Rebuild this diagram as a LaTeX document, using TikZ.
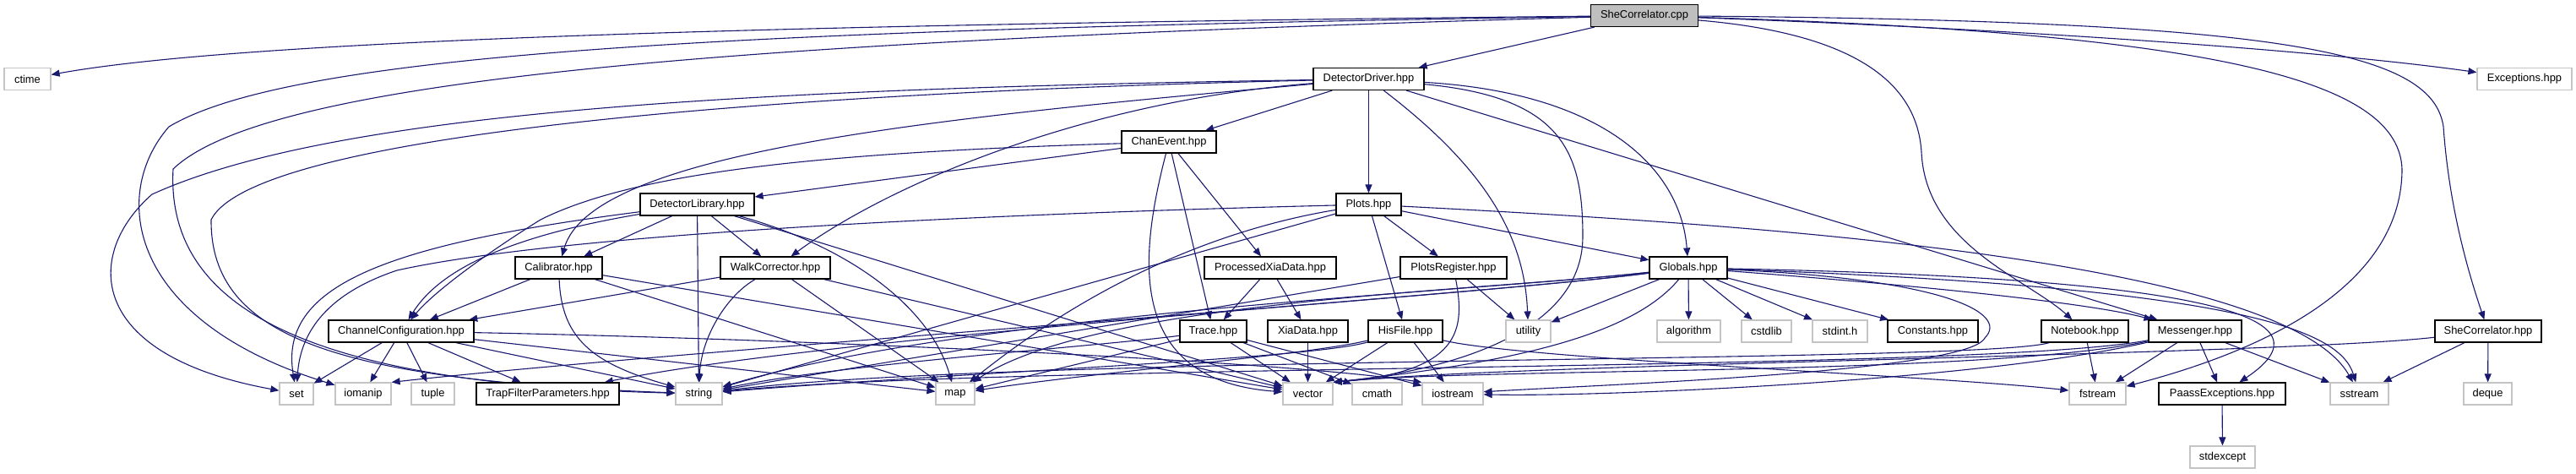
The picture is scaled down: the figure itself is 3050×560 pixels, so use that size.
\documentclass[tikz,border=0pt]{standalone}
\usepackage{fontspec}
\setmainfont{Liberation Sans}
\usetikzlibrary{arrows.meta}
\definecolor{edgeblue}{HTML}{191970}
\definecolor{sysgray}{HTML}{C4C4C4}
\definecolor{rootgray}{HTML}{BFBFBF}
\pgfdeclarelayer{bg}
\pgfsetlayers{bg,main}
\tikzset{
  box/.style={draw=black, line width=1.2pt, fill=white, minimum height=26pt, inner sep=0pt, font=\fontsize{12.9}{15}\selectfont},
  sysbox/.style={box, draw=sysgray},
  rootbox/.style={box, fill=rootgray},
  edge/.style={draw=edgeblue, line width=1.1pt, -{Triangle[length=10pt,width=8pt]}}
}
\begin{document}
\begin{tikzpicture}[x=1pt,y=-1pt]
\useasboundingbox (0,0) rectangle (3050,560);
% row 0
\node[rootbox, minimum width=127pt] (shecpp) at (1947,18.5) {SheCorrelator.cpp};
% row 1
\node[sysbox, minimum width=55pt] (ctime) at (32.5,93.5) {ctime};
\node[box, minimum width=131pt] (dd) at (1620.5,93.5) {DetectorDriver.hpp};
\node[sysbox, minimum width=112pt] (exc) at (2989,93.5) {Exceptions.hpp};
% row 2
\node[box, minimum width=112pt] (chan) at (1384,168) {ChanEvent.hpp};
% row 3
\node[box, minimum width=135pt] (detlib) at (825.5,242) {DetectorLibrary.hpp};
\node[box, minimum width=77pt] (plots) at (1620.5,242) {Plots.hpp};
% row 4
\node[box, minimum width=103pt] (calib) at (661.5,317) {Calibrator.hpp};
\node[box, minimum width=130pt] (walk) at (918,317) {WalkCorrector.hpp};
\node[box, minimum width=156pt] (pxd) at (1504,317) {ProcessedXiaData.hpp};
\node[box, minimum width=126pt] (preg) at (1721,317) {PlotsRegister.hpp};
\node[box, minimum width=92pt] (glob) at (1999,317) {Globals.hpp};
% row 5
\node[box, minimum width=172pt] (chcfg) at (475,392) {ChannelConfiguration.hpp};
\node[box, minimum width=79pt] (trace) at (1436.5,392) {Trace.hpp};
\node[box, minimum width=95pt] (xia) at (1548.5,392) {XiaData.hpp};
\node[box, minimum width=88pt] (his) at (1664,392) {HisFile.hpp};
\node[sysbox, minimum width=53pt] (util) at (1809.5,392) {utility};
\node[sysbox, minimum width=75pt] (algo) at (1999.5,392) {algorithm};
\node[sysbox, minimum width=59pt] (cstd) at (2091.5,392) {cstdlib};
\node[sysbox, minimum width=65pt] (stdint) at (2178.5,392) {stdint.h};
\node[box, minimum width=107pt] (const) at (2288.5,392) {Constants.hpp};
\node[box, minimum width=103pt] (note) at (2468.5,392) {Notebook.hpp};
\node[box, minimum width=110pt] (mess) at (2599,392) {Messenger.hpp};
\node[box, minimum width=126pt] (shehpp) at (2946,392) {SheCorrelator.hpp};
% row 6
\node[sysbox, minimum width=40pt] (set) at (351,466) {set};
\node[sysbox, minimum width=66pt] (ioman) at (430,466) {iomanip};
\node[sysbox, minimum width=51pt] (tuple) at (512.5,466) {tuple};
\node[box, minimum width=169pt] (trap) at (648.5,466) {TrapFilterParameters.hpp};
\node[sysbox, minimum width=55pt] (string) at (827.5,466) {string};
\node[sysbox, minimum width=46pt] (map) at (1131,466) {map};
\node[sysbox, minimum width=59pt] (vector) at (1548.5,466) {vector};
\node[sysbox, minimum width=59pt] (cmath) at (1630.5,466) {cmath};
\node[sysbox, minimum width=72pt] (iostr) at (1720,466) {iostream};
\node[sysbox, minimum width=67pt] (fstr) at (2483.5,466) {fstream};
\node[box, minimum width=150pt] (paass) at (2631,466) {PaassExceptions.hpp};
\node[sysbox, minimum width=69pt] (sstr) at (2793.5,466) {sstream};
\node[sysbox, minimum width=57pt] (deque) at (2945.5,466) {deque};
% row 7
\node[sysbox, minimum width=77pt] (stdexc) at (2631.5,541) {stdexcept};

\begin{pgfonlayer}{bg}
\fill[white] (0,0) rectangle (3050,560);
% SheCorrelator.cpp
\draw[edge] (shecpp) .. controls (1000,28) and (300,45) .. (ctime);
\draw[edge] (shecpp) -- (dd);
\draw[edge] (shecpp) .. controls (2400,35) and (2750,60) .. (exc);
\draw[edge] (shecpp) .. controls (900,35) and (350,60) .. (200,150) .. controls (130,230) and (150,380) .. (ioman);
\draw[edge] (shecpp) .. controls (900,48) and (320,90) .. (205,200) .. controls (195,380) and (400,455) .. (string);
\draw[edge] (shecpp) .. controls (2200,40) and (2270,100) .. (2275,180) .. controls (2280,290) and (2400,330) .. (note);
\draw[edge] (shecpp) .. controls (2700,25) and (2880,60) .. (2893,150) .. controls (2900,250) and (2925,330) .. (shehpp);
\draw[edge] (shecpp) .. controls (2650,40) and (2840,100) .. (2844,200) .. controls (2844,330) and (2700,410) .. (fstr);
% DetectorDriver
\draw[edge] (dd) -- (chan);
\draw[edge] (dd) -- (plots);
\draw[edge] (dd) .. controls (1100,140) and (700,180) .. (calib);
\draw[edge] (dd) .. controls (1280,120) and (1050,220) .. (walk);
\draw[edge] (dd) .. controls (1900,110) and (1990,200) .. (glob);
\draw[edge] (dd) -- (mess);
\draw[edge] (dd) .. controls (1760,200) and (1805,280) .. (util);
\draw[edge] (dd) .. controls (1850,115) and (1874,180) .. (1874,280) .. controls (1874,400) and (1700,440) .. (vector.north east);
\draw[edge] (dd) .. controls (900,105) and (400,130) .. (180,230) .. controls (100,300) and (100,420) .. (set);
\draw[edge] (dd) .. controls (900,110) and (300,160) .. (250,260) .. controls (249,400) and (400,450) .. (string);
% ChanEvent
\draw[edge] (chan) -- (detlib);
\draw[edge] (chan) .. controls (1000,180) and (760,200) .. (640,260) .. controls (560,310) and (510,350) .. (chcfg);
\draw[edge] (chan) -- (pxd);
\draw[edge] (chan) -- (trace);
\draw[edge] (chan) .. controls (1350,300) and (1330,450) .. (vector);
% DetectorLibrary
\draw[edge] (detlib) .. controls (450,290) and (330,340) .. (set);
\draw[edge] (detlib) .. controls (600,280) and (520,320) .. (chcfg);
\draw[edge] (detlib) -- (calib);
\draw[edge] (detlib) -- (walk);
\draw[edge] (detlib) -- (string);
\draw[edge] (detlib) .. controls (1000,290) and (1100,360) .. (map);
\draw[edge] (detlib) -- (vector);
% Plots
\draw[edge] (plots) .. controls (1100,255) and (650,280) .. (470,320) .. controls (380,350) and (355,400) .. (set);
\draw[edge] (plots) -- (string);
\draw[edge] (plots) .. controls (1450,270) and (1300,330) .. (map);
\draw[edge] (plots) -- (his);
\draw[edge] (plots) -- (preg);
\draw[edge] (plots) -- (glob);
\draw[edge] (plots) .. controls (2000,262) and (2700,300) .. (sstr);
% Calibrator
\draw[edge] (calib) -- (chcfg);
\draw[edge] (calib) .. controls (665,400) and (700,430) .. (string);
\draw[edge] (calib) -- (map);
\draw[edge] (calib) -- (vector);
% WalkCorrector
\draw[edge] (walk) -- (chcfg);
\draw[edge] (walk) .. controls (860,350) and (830,400) .. (string);
\draw[edge] (walk) -- (map);
\draw[edge] (walk) -- (vector);
% ProcessedXiaData, XiaData
\draw[edge] (pxd) -- (trace);
\draw[edge] (pxd) -- (xia);
\draw[edge] (xia) -- (vector);
% PlotsRegister
\draw[edge] (preg) -- (string);
\draw[edge] (preg) -- (util);
\draw[edge] (preg) .. controls (1735,390) and (1730,440) .. (vector.north east);
% Globals
\draw[edge] (glob) .. controls (1750,345) and (1150,370) .. (string);
\draw[edge] (glob) .. controls (1750,345) and (1300,355) .. (map);
\draw[edge] (glob) .. controls (1750,350) and (1000,395) .. (trap);
\draw[edge] (glob) .. controls (1750,350) and (800,415) .. (ioman.north east);
\draw[edge] (glob) -- (util);
\draw[edge] (glob) .. controls (1930,400) and (1780,430) .. (vector.north east);
\draw[edge] (glob) -- (algo);
\draw[edge] (glob) -- (cstd);
\draw[edge] (glob) -- (stdint);
\draw[edge] (glob) -- (const);
\draw[edge] (glob) .. controls (2300,340) and (2480,360) .. (mess);
\draw[edge] (glob) .. controls (2650,330) and (2760,380) .. (paass);
\draw[edge] (glob) .. controls (2650,340) and (2770,390) .. (sstr);
\draw[edge] (glob) .. controls (2300,330) and (2380,370) .. (2350,400) .. controls (2330,440) and (1900,455) .. (iostr);
% ChannelConfiguration
\draw[edge] (chcfg) -- (set);
\draw[edge] (chcfg) -- (ioman);
\draw[edge] (chcfg) -- (tuple);
\draw[edge] (chcfg) -- (trap);
\draw[edge] (chcfg) -- (string);
\draw[edge] (chcfg) -- (map);
\draw[edge] (chcfg) .. controls (900,400) and (1500,425) .. (iostr.north west);
% Trace
\draw[edge] (trace) .. controls (1300,410) and (1000,430) .. (string);
\draw[edge] (trace) -- (map);
\draw[edge] (trace) -- (vector);
\draw[edge] (trace) -- (cmath);
\draw[edge] (trace) -- (iostr);
% HisFile
\draw[edge] (his) .. controls (1550,425) and (1150,440) .. (string);
\draw[edge] (his) .. controls (1550,420) and (1300,440) .. (map);
\draw[edge] (his) -- (vector);
\draw[edge] (his) -- (iostr);
\draw[edge] (his) .. controls (1800,425) and (2300,445) .. (fstr);
% Notebook
\draw[edge] (note) -- (fstr);
\draw[edge] (note) .. controls (2350,430) and (1200,420) .. (string);
% Messenger
\draw[edge] (mess) -- (fstr);
\draw[edge] (mess) -- (paass);
\draw[edge] (mess) -- (sstr);
\draw[edge] (mess) .. controls (2350,440) and (1200,430) .. (string);
\draw[edge] (mess) .. controls (2350,445) and (1750,435) .. (vector.north east);
\draw[edge] (mess) .. controls (2350,450) and (1900,470) .. (iostr);
% SheCorrelator.hpp
\draw[edge] (shehpp) -- (sstr);
\draw[edge] (shehpp) -- (deque);
\draw[edge] (shehpp) .. controls (2700,420) and (1800,430) .. (vector.north east);
% PaassExceptions
\draw[edge] (paass) -- (stdexc);
\end{pgfonlayer}
\end{tikzpicture}
\end{document}
